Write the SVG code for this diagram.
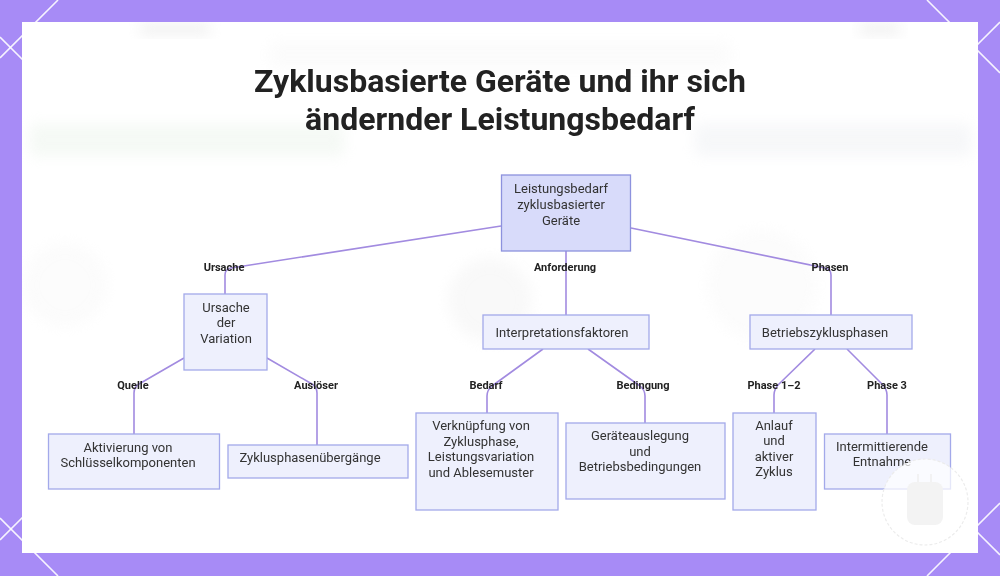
<svg xmlns="http://www.w3.org/2000/svg" width="1000" height="576" viewBox="0 0 1000 576">
<style>
.bgline{stroke:#ffffff;stroke-width:1.6;fill:none;opacity:0.9}
.title{font-family:Roboto,"Liberation Sans",sans-serif;font-weight:700;font-size:32px;fill:#222222;text-anchor:middle}
.root{fill:#d8dbfa;stroke:#8d92de;stroke-width:1.3}
.box{fill:#eef0fd;stroke:#a3a9ea;stroke-width:1.3}
.nt{font-family:Roboto,"Liberation Sans",sans-serif;font-size:13px;fill:#333333;text-anchor:middle}
.edge{fill:none;stroke:#a28be0;stroke-width:1.6}
.el{font-family:Roboto,"Liberation Sans",sans-serif;font-weight:700;font-size:11px;fill:#222222;text-anchor:middle}
.ghost{filter:url(#blur)}
</style>
<defs>
<filter id="blur" x="-20%" y="-50%" width="140%" height="200%"><feGaussianBlur stdDeviation="7"/></filter>
<clipPath id="panel"><rect x="22" y="22" width="956" height="531"/></clipPath>
</defs>
<rect x="0" y="0" width="1000" height="576" fill="#a78bf6"/>
<g id="pattern">
<line class="bgline" x1="58" y1="0" x2="0" y2="58"/>
<line class="bgline" x1="0" y1="37" x2="30" y2="67"/>
<line class="bgline" x1="0" y1="540" x2="30" y2="510"/>
<line class="bgline" x1="0" y1="518" x2="58" y2="576"/>
<line class="bgline" x1="927" y1="0" x2="1000" y2="73"/>
<line class="bgline" x1="1000" y1="22" x2="970" y2="52"/>
<line class="bgline" x1="1000" y1="503" x2="927" y2="576"/>
<line class="bgline" x1="970" y1="525" x2="1000" y2="555"/>
</g>
<rect x="22" y="22" width="956" height="531" fill="#ffffff"/>
<g id="ghosts" opacity="0.35" clip-path="url(#panel)">
<rect class="ghost" x="30" y="124" width="314" height="32" fill="#e3efe3"/>
<rect class="ghost" x="695" y="124" width="276" height="32" fill="#e6e9ee"/>
<rect class="ghost" x="140" y="24" width="70" height="10" fill="#d0d0d0"/>
<rect class="ghost" x="860" y="24" width="40" height="10" fill="#d0d0d0"/>
<rect class="ghost" x="270" y="42" width="460" height="26" fill="#f4f4f4"/>
<circle class="ghost" cx="65" cy="285" r="42" fill="#f5f5f5"/>
<circle class="ghost" cx="490" cy="300" r="42" fill="#ededed"/>
<circle class="ghost" cx="762" cy="285" r="55" fill="#f6f6f6"/>
</g>
<g id="title">
<text class="title" x="500" y="92">Zyklusbasierte Geräte und ihr sich</text>
<text class="title" x="500" y="130">ändernder Leistungsbedarf</text>
</g>
<g id="connectors">
<path class="edge" d="M501,226 L231,268 Q225,269 225,275 L225,294"/>
<path class="edge" d="M566,251 L566,315"/>
<path class="edge" d="M631,228 L825,268 Q831,269 831,275 L831,315"/>
<path class="edge" d="M184,358 L139,384 Q134,387 134,393 L134,434"/>
<path class="edge" d="M267,358 L312,384 Q317,387 317,393 L317,445"/>
<path class="edge" d="M543,349 L492,386 Q487,390 487,396 L487,413"/>
<path class="edge" d="M588,349 L640,386 Q645,390 645,396 L645,423"/>
<path class="edge" d="M815,349 L779,384 Q774,389 774,395 L774,413"/>
<path class="edge" d="M847,349 L882,384 Q887,389 887,395 L887,434"/>
<text class="el" x="224" y="271">Ursache</text>
<text class="el" x="565" y="271">Anforderung</text>
<text class="el" x="830" y="271">Phasen</text>
<text class="el" x="133" y="389">Quelle</text>
<text class="el" x="316" y="389">Auslöser</text>
<text class="el" x="486" y="389">Bedarf</text>
<text class="el" x="643" y="389">Bedingung</text>
<text class="el" x="774" y="389">Phase 1–2</text>
<text class="el" x="887" y="389">Phase 3</text>
</g>
<g id="root">
<rect class="root" x="501.5" y="175" width="129" height="76"/>
<text class="nt" x="561" y="193">Leistungsbedarf</text>
<text class="nt" x="561" y="209">zyklusbasierter</text>
<text class="nt" x="561" y="225">Geräte</text>
</g>
<g id="ursache">
<rect class="box" x="184" y="294" width="83" height="76"/>
<text class="nt" x="226" y="312">Ursache</text>
<text class="nt" x="226" y="327">der</text>
<text class="nt" x="226" y="343">Variation</text>
</g>
<g id="interpretation">
<rect class="box" x="483" y="315" width="166" height="34"/>
<text class="nt" x="562" y="337">Interpretationsfaktoren</text>
</g>
<g id="betrieb">
<rect class="box" x="750" y="315" width="162" height="34"/>
<text class="nt" x="825" y="337">Betriebszyklusphasen</text>
</g>
<g id="aktivierung">
<rect class="box" x="48.5" y="434" width="171" height="55"/>
<text class="nt" x="128" y="452">Aktivierung von</text>
<text class="nt" x="128" y="467">Schlüsselkomponenten</text>
</g>
<g id="uebergaenge">
<rect class="box" x="228" y="445" width="180" height="33"/>
<text class="nt" x="310" y="462">Zyklusphasenübergänge</text>
</g>
<g id="verknuepfung">
<rect class="box" x="416" y="413" width="142" height="97"/>
<text class="nt" x="481" y="430">Verknüpfung von</text>
<text class="nt" x="481" y="446">Zyklusphase,</text>
<text class="nt" x="481" y="461">Leistungsvariation</text>
<text class="nt" x="481" y="477">und Ablesemuster</text>
</g>
<g id="geraeteauslegung">
<rect class="box" x="566" y="423" width="159" height="76"/>
<text class="nt" x="640" y="440">Geräteauslegung</text>
<text class="nt" x="640" y="456">und</text>
<text class="nt" x="640" y="471">Betriebsbedingungen</text>
</g>
<g id="anlauf">
<rect class="box" x="733" y="413" width="83" height="97"/>
<text class="nt" x="774" y="430">Anlauf</text>
<text class="nt" x="774" y="445">und</text>
<text class="nt" x="774" y="461">aktiver</text>
<text class="nt" x="774" y="476">Zyklus</text>
</g>
<g id="intermittierend">
<rect class="box" x="824.5" y="434" width="126" height="55"/>
<text class="nt" x="882" y="451">Intermittierende</text>
<text class="nt" x="882" y="466">Entnahme</text>
</g>
<g id="watermark">
<circle cx="925" cy="502" r="43" fill="#ffffff" fill-opacity="0.72" stroke="#ececec" stroke-width="1.2" stroke-dasharray="3 2"/>
<rect x="907" y="482" width="36" height="43" rx="8" fill="#f3f3f3"/>
<line x1="918" y1="474" x2="918" y2="482" stroke="#efefef" stroke-width="1.5"/>
<line x1="931" y1="474" x2="931" y2="482" stroke="#efefef" stroke-width="1.5"/>
</g>
</svg>
